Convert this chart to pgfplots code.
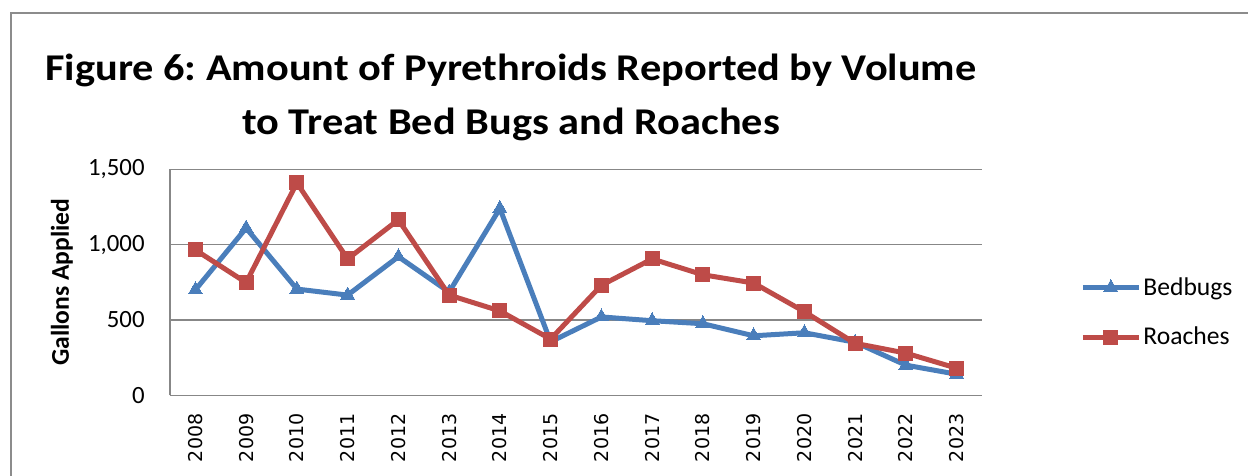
\documentclass[border=0pt]{standalone}
\usepackage{fontspec}
\setmainfont{Carlito}
\newfontfamily\dejavu{DejaVu Sans}
\usepackage{pgfplots}
\pgfplotsset{compat=1.18}
\definecolor{bbblue}{HTML}{4A7EBB}
\definecolor{rored}{HTML}{BE4B48}
\definecolor{gridgray}{HTML}{878787}
\definecolor{framegray}{HTML}{8C8C8C}
\frenchspacing
\begin{document}
\begin{tikzpicture}
\path[use as bounding box] (0,0) rectangle (624pt,238pt);
\draw[framegray, line width=0.8pt] (5.5pt,0pt) -- (5.5pt,231.5pt) -- (624pt,231.5pt);
\node[anchor=base, inner sep=0pt, xscale=1.12, transform shape, font=\fontsize{18.9}{22}\selectfont\bfseries] at (255.5pt,197.65pt) {Figure 6: Amount of Pyrethroids Reported by Volume};
\node[anchor=base, inner sep=0pt, xscale=1.12, transform shape, font=\fontsize{18.9}{22}\selectfont\bfseries] at (255.5pt,170.5pt) {to Treat Bed Bugs and Roaches};
\begin{axis}[
  at={(85pt,40.35pt)}, anchor=south west,
  scale only axis, width=406pt, height=113pt,
  xmin=-0.5, xmax=15.5, ymin=0, ymax=1500,
  axis lines=left, axis line style={-, draw=gridgray, line width=0.75pt},
  ymajorgrids, grid style={gridgray, line width=0.75pt},
  major tick length=0pt,
  xtick={0,...,15},
  xticklabels={2008,2009,2010,2011,2012,2013,2014,2015,2016,2017,2018,2019,2020,2021,2022,2023},
  xticklabel style={font=\dejavu\fontsize{9.5}{11}\selectfont, rotate=90, anchor=east, inner ysep=0pt, inner xsep=9pt},
  ytick={0,500,1000,1500},
  yticklabel style={font=\fontsize{12.4}{14}\selectfont, anchor=east, inner sep=0pt, xshift=-12.5pt},
  /pgf/number format/.cd, 1000 sep={,}, assume math mode=true, /pgfplots/.cd,
  ylabel={Gallons Applied},
  every axis y label/.style={at={(axis description cs:-0.133,0.5)}, rotate=90, anchor=center, font=\fontsize{12.8}{14}\selectfont\bfseries},
  clip=false,
  legend cell align=left,
  legend image code/.code={\draw[mark repeat=2,mark phase=2,#1] plot coordinates {(0pt,0pt)(14pt,0pt)(28pt,0pt)};},
  legend style={draw=none, fill=none, at={(axis description cs:1.1207,0.366)}, anchor=west,
    font=\fontsize{12.8}{14}\selectfont, row sep=12.5pt, inner sep=0pt, nodes={inner sep=1pt}},
]
\addplot[bbblue, line width=2.5pt, mark=triangle*, mark size=4pt, mark options={fill=bbblue, line width=0pt}] coordinates {
(0,700) (1,1110) (2,705) (3,665) (4,920) (5,685) (6,1240) (7,355)
(8,520) (9,495) (10,475) (11,395) (12,415) (13,352) (14,200) (15,140)};
\addlegendentry{Bedbugs}
\addplot[rored, line width=2.5pt, mark=square*, mark size=3.5pt, mark options={fill=rored, line width=0pt}] coordinates {
(0,965) (1,748) (2,1410) (3,905) (4,1165) (5,665) (6,560) (7,373)
(8,730) (9,905) (10,800) (11,745) (12,555) (13,345) (14,280) (15,180)};
\addlegendentry{Roaches}
\end{axis}
\end{tikzpicture}
\end{document}
